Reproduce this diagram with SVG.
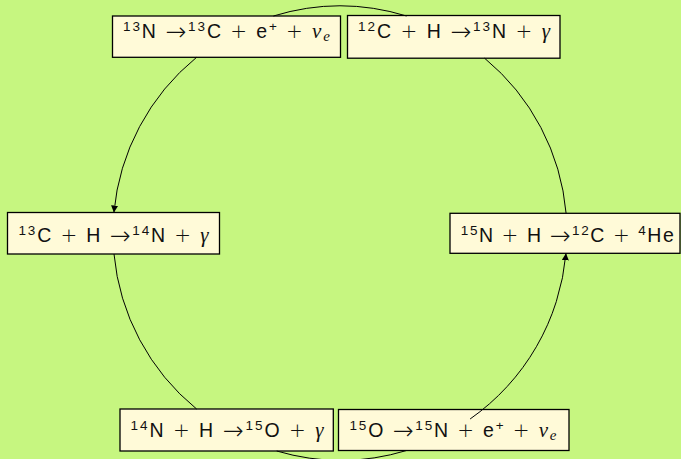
<svg xmlns="http://www.w3.org/2000/svg" width="681" height="459" viewBox="0 0 681 459">
<defs>
<style>
.bg{fill:#c6f680}
.box{fill:#fffad8;stroke:#000;stroke-width:1.3}
.t{font-family:"Liberation Sans",Arial,sans-serif;font-size:19.5px;fill:#111;text-anchor:middle}
.s{font-size:13.5px}
.o{font-family:"DejaVu Sans",sans-serif;font-size:20px;font-weight:200}
.a{font-family:"DejaVu Sans",sans-serif;font-size:25px;font-weight:200}
.i{font-family:"Liberation Serif","Times New Roman",serif;font-style:italic;font-size:21px}
.si{font-family:"Liberation Serif","Times New Roman",serif;font-style:italic;font-size:15px}
.arc{fill:none;stroke:#000;stroke-width:1}
</style>
<marker id="ah" viewBox="0 0 10 10" refX="10" refY="5" markerWidth="7" markerHeight="7" markerUnits="userSpaceOnUse" orient="auto">
<path d="M0,0 L10,5 L0,10 Z" fill="#000"/>
</marker>
</defs>
<rect class="bg" x="0" y="0" width="681" height="459"/>
<g id="n13N">
<rect class="box" x="112.5" y="16" width="228" height="41.3"/>
<text class="t" x="226.5" y="38" textLength="207" lengthAdjust="spacing"><tspan class="s" dy="-7">13</tspan><tspan dy="7">N </tspan><tspan class="a" dy="2">→</tspan><tspan class="s" dy="-9">13</tspan><tspan dy="7">C </tspan><tspan class="o">+</tspan> e<tspan class="s" dy="-7">+</tspan><tspan dy="7"> </tspan><tspan class="o">+</tspan> <tspan class="i">ν</tspan><tspan class="si" dy="3">e</tspan></text>
</g>
<g id="c12">
<rect class="box" x="347.5" y="15.5" width="212.5" height="42.7"/>
<text class="t" x="454" y="38" textLength="192" lengthAdjust="spacing"><tspan class="s" dy="-7">12</tspan><tspan dy="7">C </tspan><tspan class="o">+</tspan> H <tspan class="a" dy="2">→</tspan><tspan class="s" dy="-9">13</tspan><tspan dy="7">N </tspan><tspan class="o">+</tspan> <tspan class="i">γ</tspan></text>
</g>
<g id="c13">
<rect class="box" x="7.5" y="212.5" width="212" height="41.5"/>
<text class="t" x="113.5" y="241.5" textLength="190" lengthAdjust="spacing"><tspan class="s" dy="-7">13</tspan><tspan dy="7">C </tspan><tspan class="o">+</tspan> H <tspan class="a" dy="2">→</tspan><tspan class="s" dy="-9">14</tspan><tspan dy="7">N </tspan><tspan class="o">+</tspan> <tspan class="i">γ</tspan></text>
</g>
<g id="n15">
<rect class="box" x="450" y="213.3" width="230" height="40"/>
<text class="t" x="567.3" y="241.5" textLength="213" lengthAdjust="spacing"><tspan class="s" dy="-7">15</tspan><tspan dy="7">N </tspan><tspan class="o">+</tspan> H <tspan class="a" dy="2">→</tspan><tspan class="s" dy="-9">12</tspan><tspan dy="7">C </tspan><tspan class="o">+</tspan> <tspan class="s" dy="-7">4</tspan><tspan dy="7">He</tspan></text>
</g>
<g id="n14">
<rect class="box" x="120" y="409" width="213.3" height="42"/>
<text class="t" x="227" y="437" textLength="193" lengthAdjust="spacing"><tspan class="s" dy="-7">14</tspan><tspan dy="7">N </tspan><tspan class="o">+</tspan> H <tspan class="a" dy="2">→</tspan><tspan class="s" dy="-9">15</tspan><tspan dy="7">O </tspan><tspan class="o">+</tspan> <tspan class="i">γ</tspan></text>
</g>
<g id="o15">
<rect class="box" x="338.5" y="409.5" width="230.5" height="41"/>
<text class="t" x="453" y="437" textLength="207" lengthAdjust="spacing"><tspan class="s" dy="-7">15</tspan><tspan dy="7">O </tspan><tspan class="a" dy="2">→</tspan><tspan class="s" dy="-9">15</tspan><tspan dy="7">N </tspan><tspan class="o">+</tspan> e<tspan class="s" dy="-7">+</tspan><tspan dy="7"> </tspan><tspan class="o">+</tspan> <tspan class="i">ν</tspan><tspan class="si" dy="3">e</tspan></text>
</g>
<g id="connectors">
<path class="arc" d="M406.6,16 A227,227 0 0 0 273.4,16"/>
<path class="arc" marker-end="url(#ah)" d="M196.6,57.3 A227,227 0 0 0 113.9,212.5"/>
<path class="arc" d="M114,254 A227,227 0 0 0 196.6,409"/>
<path class="arc" d="M276.7,451 A227,227 0 0 0 406.6,450.5"/>
<path class="arc" marker-end="url(#ah)" d="M470.1,419 A227,227 0 0 0 566,253.3"/>
<path class="arc" d="M566.1,213.3 A227,227 0 0 0 484.6,58.2"/>
</g>
</svg>
